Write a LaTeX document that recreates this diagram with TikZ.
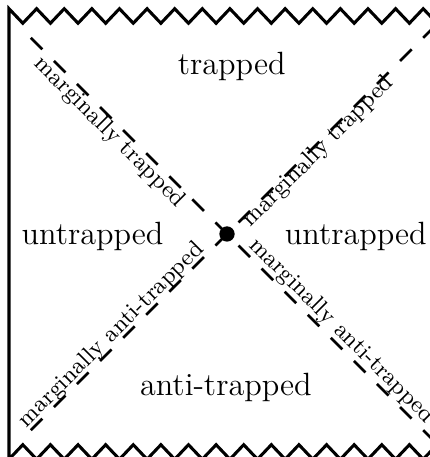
\documentclass[tikz,border=0pt]{standalone}
\usepackage{tikz}

\begin{document}
\begin{tikzpicture}[
    bound/.style={line width=1.2pt},
    horizon/.style={line width=1pt, dash pattern=on 6.39pt off 6.39pt},
    region/.style={font=\fontsize{12.6}{15}\selectfont, anchor=base},
    margin/.style={font=\fontsize{9.2}{11}\selectfont, inner sep=0pt}
  ]
  \useasboundingbox (-3.124,-3.069) rectangle (2.793,3.220);

  % Boundary: lower singularity, left wall, upper singularity
  \draw[bound] (3.08,-3.1) \foreach \k in {1,...,16} {-- ++(-0.19,0.2) -- ++(-0.19,-0.2)}
    -- (-3,3.1) \foreach \k in {1,...,16} {-- ++(0.19,-0.2) -- ++(0.19,0.2)};

  % Horizons crossing at the bifurcation point
  \coordinate (c) at (0,0);
  \draw[horizon] (-2.7,2.7) -- (3,-3);
  \draw[horizon] (-2.7,-2.7) -- (3,3);
  \fill (c) circle (3pt);

  % Regions
  \node[region] (tr) at (0.065,2.20) {trapped};
  \node[region] (at) at (-0.016,-2.225) {anti-trapped};
  \node[region] (ul) at (-1.851,-0.151) {untrapped};
  \node[region] (ur) at (1.772,-0.151) {untrapped};

  % Labels along the horizons
  \node[margin, rotate=-45] (mtl) at (-1.617,1.397) {marginally trapped};
  \node[margin, rotate=45] (mtr) at (1.259,1.135) {marginally trapped};
  \node[margin, rotate=45] (mbl) at (-1.587,-1.390) {marginally anti-trapped};
  \node[margin, rotate=-45] (mbr) at (1.576,-1.335) {marginally anti-trapped};
\end{tikzpicture}
\end{document}
